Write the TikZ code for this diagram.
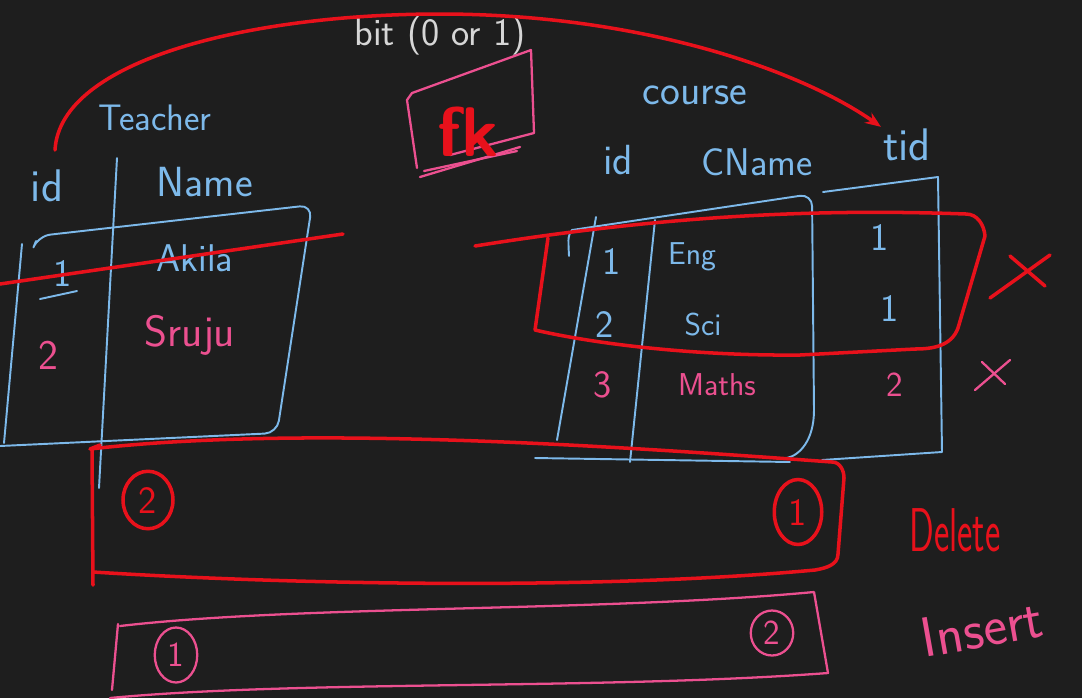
\documentclass[tikz,border=0pt]{standalone}
\usepackage{tikz}
\usetikzlibrary{arrows.meta,shapes.geometric}

\definecolor{board}{HTML}{1E1E1E}
\definecolor{inkblue}{HTML}{7DB9EA}
\definecolor{inkred}{HTML}{E8111B}
\definecolor{inkpink}{HTML}{EC5090}
\definecolor{inkgrey}{HTML}{D6D6D6}

\tikzset{
  blueline/.style={draw=inkblue, line width=1.1pt, line cap=round, line join=round},
  redline/.style={draw=inkred, line width=2pt, line cap=round, line join=round},
  pinkline/.style={draw=inkpink, line width=1.3pt, line cap=round, line join=round},
  hand/.style={font=\sffamily\fontsize{#1}{#1}\selectfont, inner sep=1pt},
  bluetext/.style={hand=#1, text=inkblue},
  pinktext/.style={hand=#1, text=inkpink},
  redtext/.style={hand=#1, text=inkred},
  redring/.style={ellipse, draw=inkred, line width=2pt, text=inkred, hand=22},
  pinkring/.style={ellipse, draw=inkpink, line width=1.3pt, text=inkpink, hand=20},
}

\begin{document}
\begin{tikzpicture}[x=0.02cm, y=-0.02cm]
\fill[board] (0,0) rectangle (1082,698);
\useasboundingbox (0,0) rectangle (1082,698);

% note at the top
\node (bit) at (440,36) [hand=22, text=inkgrey] {bit (0 or 1)};

% Teacher table
\node (teacher) at (155,118) [bluetext=21] {Teacher};
\node (tId) at (47,186) [bluetext=26] {id};
\node (tName) at (205,182) [bluetext=24] {Name};
\draw[blueline] (117,158) -- (99,488);
\draw[blueline, rounded corners=7pt] (36,241) -- (38,236) -- (312,205) -- (277,433) -- (0,446);
\draw[blueline] (22,244) -- (4,443);

\node (tOne) at (63,274) [bluetext=22] {1};
\draw[blueline] (40,299) -- (77,291);
\node (tAkila) at (195,258) [bluetext=22] {Akila};
\draw[redline] (0,284) -- (343,234);
\node (tTwo) at (48,355) [pinktext=24] {2};
\node (tSruju) at (190,335) [pinktext=25] {Sruju};

% fk box
\draw[pinkline] (417,168) -- (407,100) -- (412,93) -- (531,50) -- (534,133) -- (450,155);
\draw[pinkline] (420,177) -- (520,147);
\draw[pinkline] (424,171) -- (517,151);
\node (fk) at (468,132) [redtext=40] {\bfseries fk};

% Course table
\node (course) at (695,95) [bluetext=24] {course};
\node (cId) at (618,160) [bluetext=24] {id};
\node (cName) at (757,162) [bluetext=22] {CName};
\node (cTid) at (907,145) [bluetext=26] {tid};

\draw[blueline] (572,230) .. controls (568,236) .. (569,256);
\draw[blueline] (596,217) -- (557,440);
\draw[blueline] (655,220) -- (630,462);
\draw[blueline, rounded corners=7pt] (572,230) -- (812,194) -- (814,410);
\draw[blueline] (814,410) .. controls (814,440) and (800,455) .. (787,458);
\draw[blueline] (823,192) -- (938,177) -- (942,452) -- (822,460);
\draw[blueline] (535,458) -- (790,462);

\node (cOne) at (612,262) [bluetext=22] {1};
\node (cEng) at (692,257) [bluetext=18] {Eng};
\node (cTidOne) at (880,238) [bluetext=22] {1};
\node (cTwo) at (605,325) [bluetext=22] {2};
\node (cSci) at (703,325) [bluetext=18] {Sci};
\node (cTidTwo) at (890,308) [bluetext=22] {1};
\node (cThree) at (603,385) [pinktext=22] {3};
\node (cMaths) at (717,385) [pinktext=18] {Maths};
\node (cTidThree) at (895,385) [pinktext=20] {2};

% rows that point at teacher 1
\draw[redline] (548,238) -- (535,330) .. controls (600,345) and (700,356) .. (800,355)
  -- (915,349) to[out=0,in=-110] (958,328) -- (985,236) to[out=95,in=0] (966,214)
  .. controls (800,208) and (650,218) .. (475,246);
\draw[redline] (990,298) -- (1050,255);
\draw[redline] (1010,256) -- (1045,286);
\draw[pinkline] (975,390) -- (1010,360);
\draw[pinkline] (982,362) -- (1005,384);

% foreign key link
\coordinate (fkStart) at (55,150);
\draw[redline, -{Stealth[length=9pt,width=7pt]}] (fkStart) .. controls (60,60) and (250,14) .. (440,14)
  .. controls (640,14) and (800,70) .. (cTid.north west);

% delete order
\draw[redline] (100,445) -- (90,449) .. controls (300,425) and (600,445) .. (832,462)
  to[out=0,in=90] (844,478) -- (838,554) to[out=-90,in=10] (815,570)
  .. controls (600,590) and (300,585) .. (93,572);
\draw[redline] (92,450) -- (93,585);
\node (dTwo) at (148,500) [redring, minimum width=1.0cm, minimum height=1.15cm] {2};
\node (dOne) at (798,512) [redring, minimum width=0.95cm, minimum height=1.3cm] {1};
\node (delete) at (955,530) [redtext=32, xscale=0.65, yscale=1.1] {Delete};

% insert order
\draw[pinkline] (120,626) .. controls (300,605) and (600,612) .. (814,592) -- (828,673)
  .. controls (600,690) and (300,680) .. (110,698);
\draw[pinkline] (118,624) -- (112,690);
\node (iOne) at (176,655) [pinkring, minimum width=0.85cm, minimum height=1.1cm] {1};
\node (iTwo) at (772,633) [pinkring, minimum width=0.85cm, minimum height=0.9cm] {2};
\node (insert) at (982,628) [pinktext=32, rotate=10] {Insert};
\end{tikzpicture}
\end{document}
